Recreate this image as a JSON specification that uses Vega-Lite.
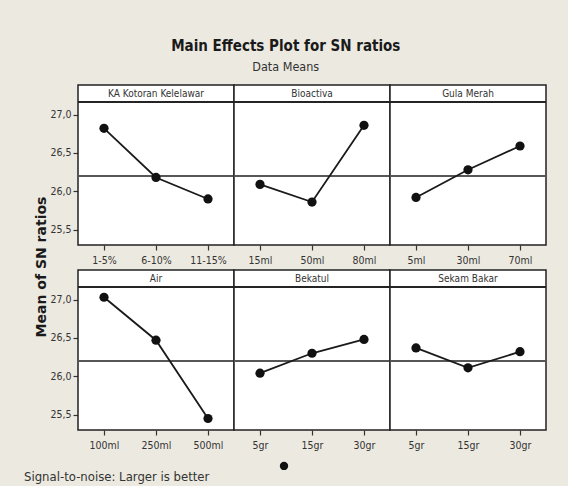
{
  "$schema": "https://vega.github.io/schema/vega-lite/v6.json",
  "background": "#ece9e0",
  "padding": {"left": 24, "top": 38, "right": 20, "bottom": 0},
  "spacing": 8,
  "title": {
    "text": "Main Effects Plot for SN ratios",
    "subtitle": "Data Means",
    "anchor": "middle",
    "frame": "bounds",
    "font": "DejaVu Sans Condensed, DejaVu Sans",
    "fontSize": 15,
    "fontWeight": "bold",
    "color": "#1a1a1a",
    "subtitleFont": "DejaVu Sans Condensed, DejaVu Sans",
    "subtitleFontSize": 12.5,
    "subtitleColor": "#333333",
    "subtitlePadding": 7,
    "offset": 10
  },
  "config": {
    "view": {"stroke": "#222222", "strokeWidth": 1.5, "fill": "white"},
    "header": {"labels": false, "labelExpr": "''", "labelPadding": 0, "labelFontSize": 1},
    "axis": {
      "domain": false,
      "grid": false,
      "tickColor": "#333333",
      "tickWidth": 1.2,
      "labelFont": "DejaVu Sans Condensed, DejaVu Sans",
      "labelFontSize": 10.5,
      "labelColor": "#333333"
    }
  },
  "vconcat": [
    {
      "data": {
        "values": [
          {"factor": "KA Kotoran Kelelawar", "level": "1-5%", "idx": 1, "sn": 26.82},
          {"factor": "KA Kotoran Kelelawar", "level": "6-10%", "idx": 2, "sn": 26.18},
          {"factor": "KA Kotoran Kelelawar", "level": "11-15%", "idx": 3, "sn": 25.9},
          {"factor": "Bioactiva", "level": "15ml", "idx": 1, "sn": 26.09},
          {"factor": "Bioactiva", "level": "50ml", "idx": 2, "sn": 25.86},
          {"factor": "Bioactiva", "level": "80ml", "idx": 3, "sn": 26.86},
          {"factor": "Gula Merah", "level": "5ml", "idx": 1, "sn": 25.92},
          {"factor": "Gula Merah", "level": "30ml", "idx": 2, "sn": 26.28},
          {"factor": "Gula Merah", "level": "70ml", "idx": 3, "sn": 26.59},
          {"factor": "Air", "level": "100ml", "idx": 1, "sn": 27.03},
          {"factor": "Air", "level": "250ml", "idx": 2, "sn": 26.47},
          {"factor": "Air", "level": "500ml", "idx": 3, "sn": 25.45},
          {"factor": "Bekatul", "level": "5gr", "idx": 1, "sn": 26.04},
          {"factor": "Bekatul", "level": "15gr", "idx": 2, "sn": 26.3},
          {"factor": "Bekatul", "level": "30gr", "idx": 3, "sn": 26.48},
          {"factor": "Sekam Bakar", "level": "5gr", "idx": 1, "sn": 26.37},
          {"factor": "Sekam Bakar", "level": "15gr", "idx": 2, "sn": 26.11},
          {"factor": "Sekam Bakar", "level": "30gr", "idx": 3, "sn": 26.32}
        ]
      },
      "facet": {
        "field": "factor",
        "type": "nominal",
        "sort": ["KA Kotoran Kelelawar", "Bioactiva", "Gula Merah", "Air", "Bekatul", "Sekam Bakar"],
        "header": {
          "title": "Mean of SN ratios",
          "titleOrient": "left",
          "titleAngle": -90,
          "titlePadding": -14,
          "labels": false,
          "labelExpr": "''",
          "labelPadding": 0,
          "titleFont": "DejaVu Sans",
          "titleFontSize": 14,
          "titleFontWeight": "bold",
          "titleColor": "#1a1a1a"
        }
      },
      "columns": 3,
      "bounds": "flush",
      "spacing": {"row": 25, "column": 0},
      "resolve": {"scale": {"x": "independent"}},
      "spec": {
        "width": 156,
        "height": 160,
        "layer": [
          {
            "mark": {"type": "rule", "color": "#555555", "strokeWidth": 1.5},
            "encoding": {"y": {"datum": 26.2, "type": "quantitative", "scale": {"domain": [25.3, 27.385], "nice": false, "zero": false}}}
          },
          {
            "mark": {"type": "rule", "color": "#222222", "strokeWidth": 1.5},
            "encoding": {"y": {"datum": 27.165, "type": "quantitative"}}
          },
          {
            "mark": {"type": "line", "color": "#1a1a1a", "strokeWidth": 1.8},
            "encoding": {
              "x": {
                "field": "level", "type": "ordinal",
                "sort": ["1-5%", "6-10%", "11-15%", "15ml", "50ml", "80ml", "5ml", "30ml", "70ml", "100ml", "250ml", "500ml", "5gr", "15gr", "30gr"],
                "scale": {"type": "point", "padding": 0.5},
                "axis": {"title": null, "labelAngle": 0, "tickSize": 5, "labelPadding": 5}
              },
              "y": {
                "field": "sn", "type": "quantitative",
                "scale": {"domain": [25.3, 27.385], "nice": false, "zero": false},
                "axis": {"title": null, "values": [25.5, 26, 26.5, 27], "labelExpr": "replace(format(datum.value, '.1f'), '.', ',')", "tickSize": 5, "labelPadding": 2}
              }
            }
          },
          {
            "mark": {"type": "point", "filled": true, "opacity": 1, "color": "#111111", "size": 85},
            "encoding": {
              "x": {"field": "level", "type": "ordinal", "sort": ["1-5%", "6-10%", "11-15%", "15ml", "50ml", "80ml", "5ml", "30ml", "70ml", "100ml", "250ml", "500ml", "5gr", "15gr", "30gr"]},
              "y": {"field": "sn", "type": "quantitative"}
            }
          },
          {
            "mark": {"type": "text", "font": "DejaVu Sans Condensed, DejaVu Sans", "fontSize": 10, "color": "#333333", "baseline": "middle"},
            "encoding": {
              "x": {"field": "level", "type": "ordinal", "sort": ["1-5%", "6-10%", "11-15%", "15ml", "50ml", "80ml", "5ml", "30ml", "70ml", "100ml", "250ml", "500ml", "5gr", "15gr", "30gr"]},
              "y": {"datum": 27.27, "type": "quantitative"},
              "text": {"condition": {"test": "datum.idx === 2", "field": "factor"}, "value": ""}
            }
          }
        ]
      }
    },
    {
      "width": 468,
      "height": 27,
      "view": {"stroke": null, "fill": null},
      "data": {"values": [{"note": "Signal-to-noise: Larger is better", "pos": -54, "dot": 206}]},
      "layer": [
        {
          "mark": {"type": "text", "align": "left", "baseline": "middle", "font": "DejaVu Sans Condensed, DejaVu Sans", "fontSize": 13, "color": "#333333"},
          "encoding": {
            "x": {"field": "pos", "type": "quantitative", "scale": {"domain": [0, 468], "nice": false, "zero": false}, "axis": null},
            "y": {"datum": 0.37, "type": "quantitative", "scale": {"domain": [0, 1]}, "axis": null},
            "text": {"field": "note"}
          }
        },
        {
          "mark": {"type": "point", "filled": true, "opacity": 1, "color": "#111111", "size": 70},
          "encoding": {
            "x": {"field": "dot", "type": "quantitative"},
            "y": {"datum": 0.78, "type": "quantitative"}
          }
        }
      ]
    }
  ]
}
